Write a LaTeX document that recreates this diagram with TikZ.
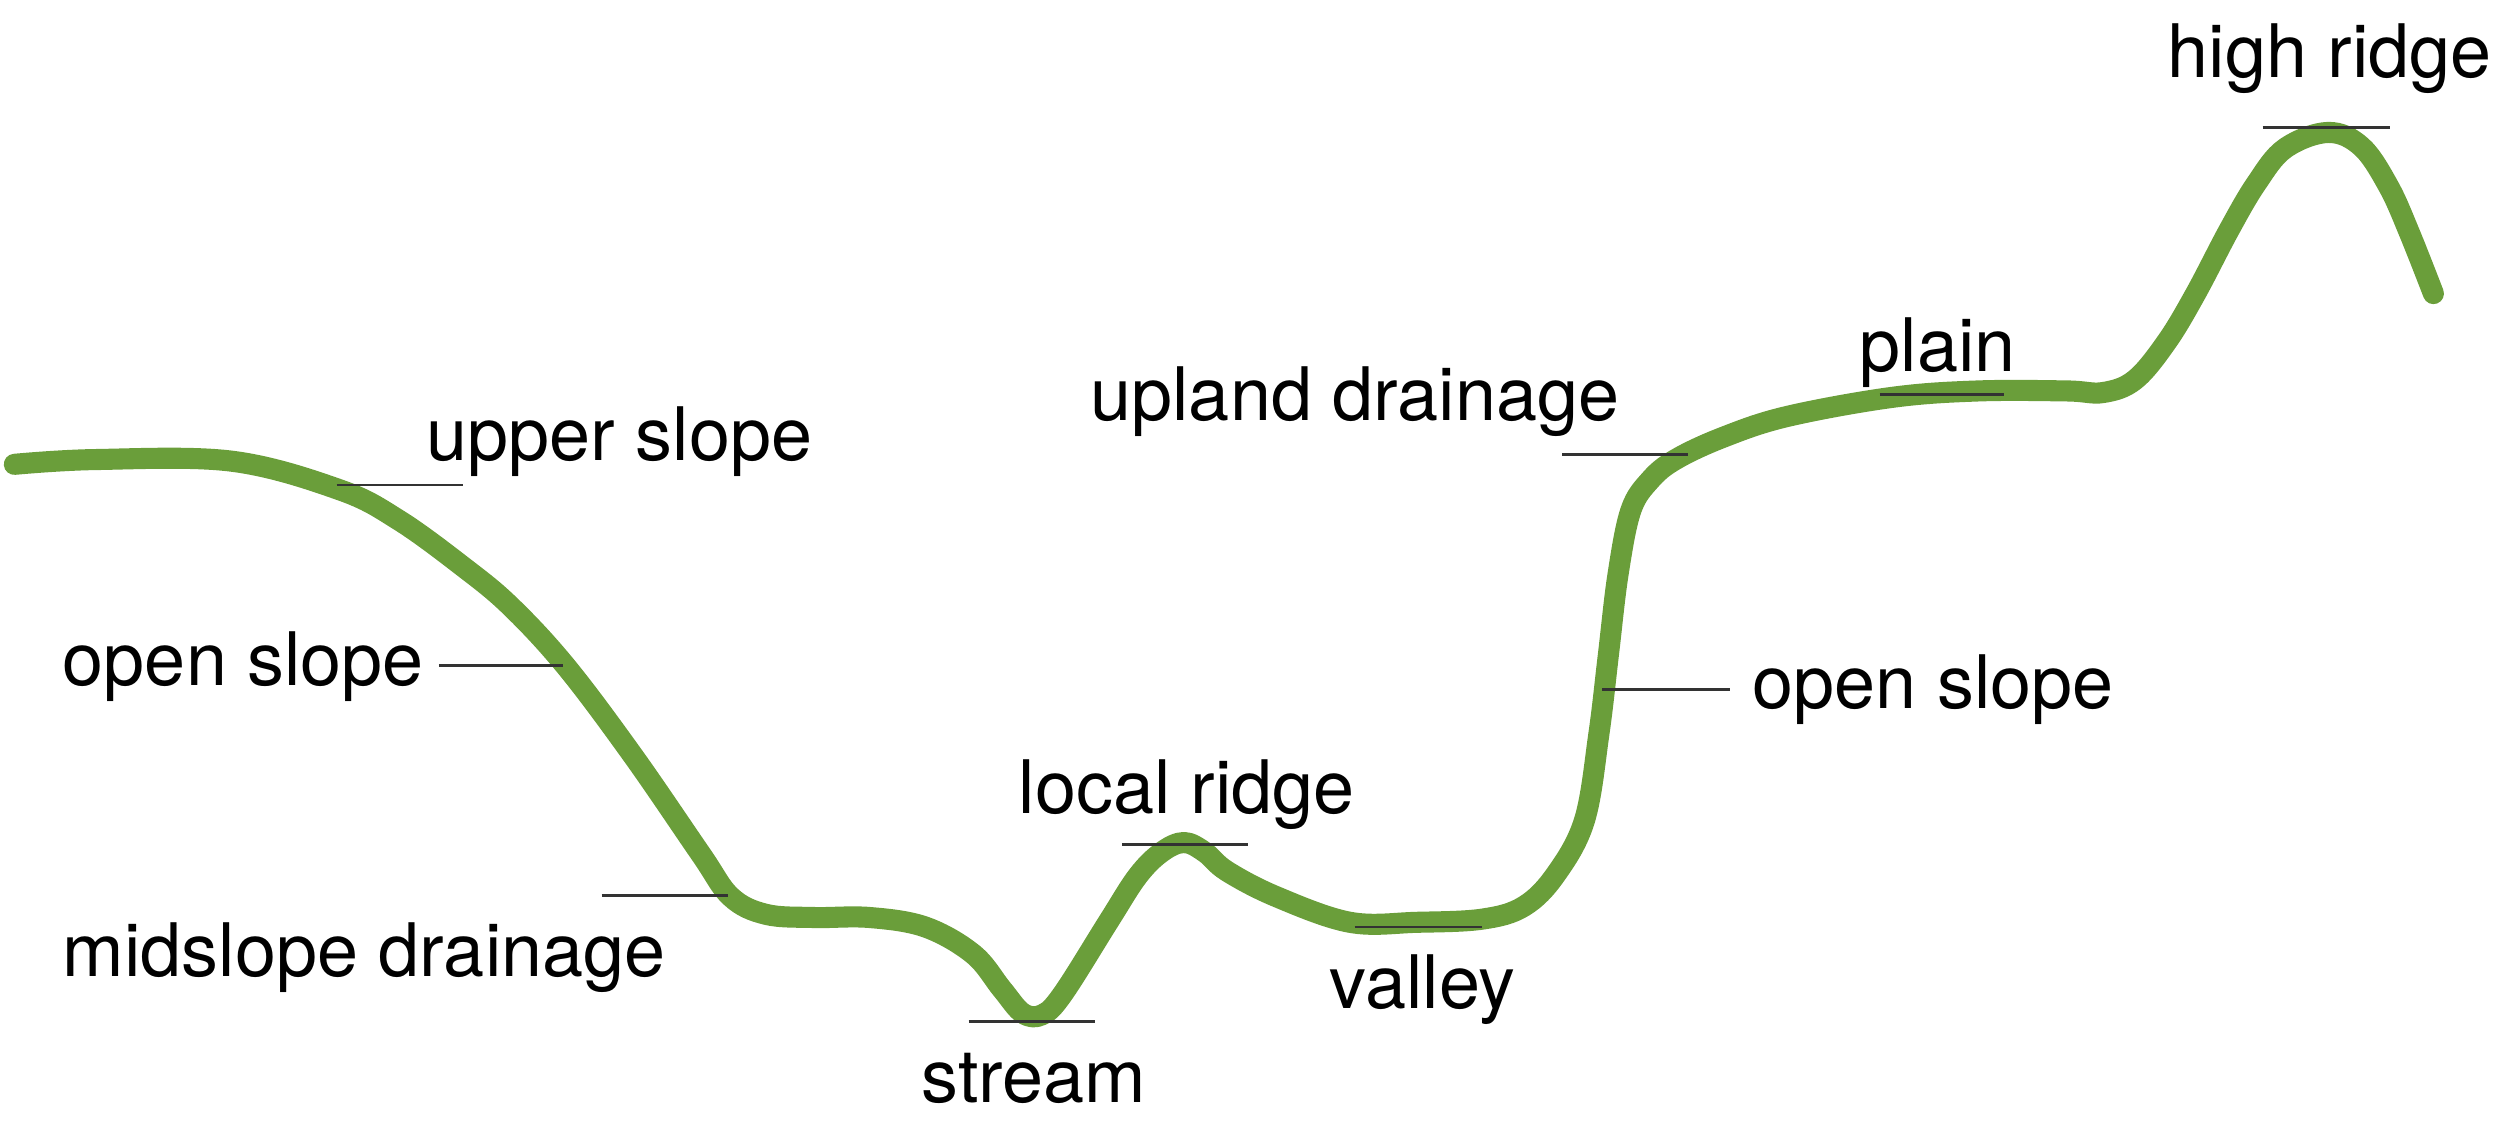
\documentclass[tikz,border=0pt]{standalone}
\usepackage{fontspec}
\setmainfont{TeX Gyre Heros}
\usepackage{xcolor}
\usepackage{tikz}

\definecolor{grassgreen}{RGB}{106,158,58}

\begin{document}
\begin{tikzpicture}[x=0.01596cm, y=-0.01596cm,
    terrain/.style={line width=6pt, color=grassgreen, line cap=round, line join=round},
    tick/.style={line width=0.8pt, color=black!80},
    lbl/.style={anchor=west, inner sep=0pt, font=\fontsize{21}{25}\selectfont}]
    \useasboundingbox (0,0) rectangle (1568,712);

    % Terrain profile
    \draw[terrain] plot[smooth, tension=0.6] coordinates {
        (9,291) (60,288) (145,289) (213,307) (250,326) (290,355) (320,380)
        (355,418) (397,474) (439,535) (458,562) (480,573) (510,575) (545,575)
        (580,581) (610,598) (628,620) (641,635) (653,636) (666,623) (695,577)
        (713,549) (728,534) (742,528) (755,534) (769,546) (800,562)
        (846,578) (888,578) (929,576) (955,568) (975,548) (993,514) (1002,460)
        (1008,410) (1014,360) (1022,320) (1034,301) (1050,288) (1080,274)
        (1120,261) (1186,249) (1240,245) (1295,245) (1318,246) (1338,238)
        (1358,214) (1376,184) (1397,144) (1414,115) (1432,93) (1459,83)
        (1480,92) (1497,117) (1510,146) (1525,184)};

    % Labels on the left side
    \node[lbl] (upper) at (267,277) {upper slope};
    \node[lbl] (open1) at (39,418) {open slope};
    \node[lbl] (mid) at (39,600) {midslope drainage};

    % Labels in the bottom
    \node[lbl] (stream) at (577,676) {stream};
    \node[lbl] (local) at (638,498) {local ridge};
    \node[lbl] (valley) at (833,620) {valley};

    % Labels on the right side
    \node[lbl] (open2) at (1098,432) {open slope};
    \node[lbl] (upland) at (683,252) {upland drainage};
    \node[lbl] (plain) at (1165,221) {plain};
    \node[lbl] (high) at (1358,37) {high ridge};

    % Tick marks on the profile
    \coordinate (t1a) at (211,304); \coordinate (t1b) at (290,304);
    \draw[tick] (t1a) -- (t1b);
    \coordinate (t2a) at (275,417); \coordinate (t2b) at (353,417);
    \draw[tick] (t2a) -- (t2b);
    \coordinate (t3a) at (377,561); \coordinate (t3b) at (456,561);
    \draw[tick] (t3a) -- (t3b);
    \coordinate (t4a) at (607,640); \coordinate (t4b) at (686,640);
    \draw[tick] (t4a) -- (t4b);
    \coordinate (t5a) at (703,529); \coordinate (t5b) at (782,529);
    \draw[tick] (t5a) -- (t5b);
    \coordinate (t6a) at (849,581); \coordinate (t6b) at (929,581);
    \draw[tick] (t6a) -- (t6b);
    \coordinate (t7a) at (1004,432); \coordinate (t7b) at (1084,432);
    \draw[tick] (t7a) -- (t7b);
    \coordinate (t8a) at (979,285); \coordinate (t8b) at (1058,285);
    \draw[tick] (t8a) -- (t8b);
    \coordinate (t9a) at (1178,247); \coordinate (t9b) at (1256,247);
    \draw[tick] (t9a) -- (t9b);
    \coordinate (t10a) at (1418,80); \coordinate (t10b) at (1498,80);
    \draw[tick] (t10a) -- (t10b);

\end{tikzpicture}
\end{document}
